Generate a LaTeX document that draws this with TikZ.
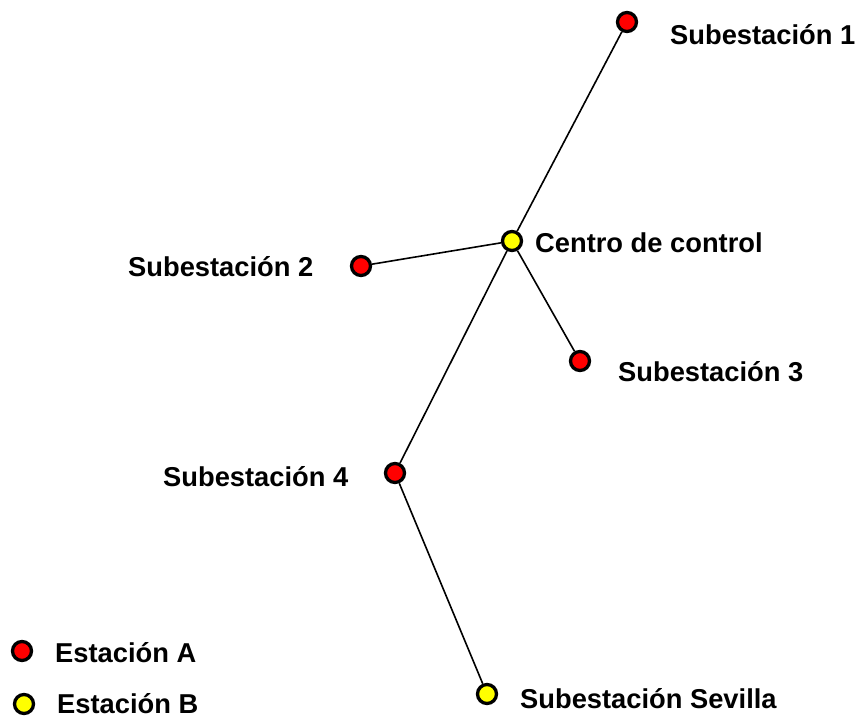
\documentclass[tikz,border=0pt]{standalone}
\usepackage{fontspec}
\setmainfont{Liberation Sans}
\definecolor{stA}{RGB}{255,0,0}
\definecolor{stB}{RGB}{255,255,0}
\begin{document}
\begin{tikzpicture}[x=1pt,y=-1pt,
  stationA/.style={circle,draw=black,line width=3.3pt,fill=stA,minimum size=19pt,inner sep=0pt},
  stationB/.style={circle,draw=black,line width=3.3pt,fill=stB,minimum size=19pt,inner sep=0pt},
  lbl/.style={anchor=west,inner sep=0pt,font=\fontsize{27.3}{31}\selectfont\bfseries},
  link/.style={line width=1.6pt,black}]
\useasboundingbox (0,0) rectangle (858,719);
% stations
\node[stationA] (s1) at (627,22) {};
\node[stationB] (cc) at (512,241) {};
\node[stationA] (s2) at (361,266) {};
\node[stationA] (s3) at (580,361) {};
\node[stationA] (s4) at (395,473) {};
\node[stationB] (sev) at (487,694) {};
% links
\draw[link] (cc) -- (s1);
\draw[link] (cc) -- (s2);
\draw[link] (cc) -- (s3);
\draw[link] (cc) -- (s4);
\draw[link] (s4) -- (sev);
% labels
\node[lbl] (l1) at (670,35) {Subestación 1};
\node[lbl] (lcc) at (535,243) {Centro de control};
\node[lbl] (l2) at (128,267) {Subestación 2};
\node[lbl] (l3) at (618,372) {Subestación 3};
\node[lbl] (l4) at (163,477) {Subestación 4};
\node[lbl] (lsev) at (520,699) {Subestación Sevilla};
% legend
\node[stationA] (ka) at (22,651) {};
\node[lbl] (la) at (55,653) {Estación A};
\node[stationB] (kb) at (24,704) {};
\node[lbl] (lb) at (57,704) {Estación B};
\end{tikzpicture}
\end{document}
